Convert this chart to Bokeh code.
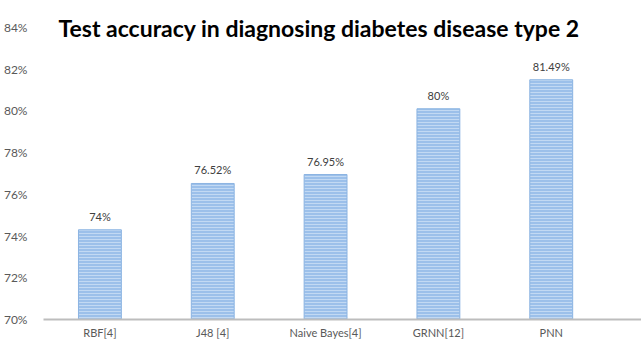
from bokeh.plotting import figure
from bokeh.models import Range1d, FixedTicker, PrintfTickFormatter, ColumnDataSource, Label
from bokeh.core.properties import value
from bokeh.embed import file_html
from bokeh.resources import INLINE

methods = ["RBF[4]", "J48 [4]", "Naive Bayes[4]", "GRNN[12]", "PNN"]
accuracy = [74.3, 76.52, 76.95, 80.1, 81.49]
value_labels = ["74%", "76.52%", "76.95%", "80%", "81.49%"]
y_ticks = [70, 72, 74, 76, 78, 80, 82, 84]
title_text = "Test accuracy in diagnosing diabetes disease type 2"

FONT = "Lato"
xs = [i + 0.5 for i in range(len(methods))]
src = ColumnDataSource(dict(x=xs, top=accuracy, lab=value_labels))

p = figure(width=641, height=341, output_backend="svg", toolbar_location=None,
           x_range=Range1d(0, 5.3), y_range=Range1d(70, 85.29),
           min_border_left=42, min_border_right=0, min_border_top=0, min_border_bottom=0)
p.outline_line_color = None
p.xgrid.visible = False
p.ygrid.visible = False

p.vbar(x="x", top="top", bottom=70, width=0.38, source=src,
       fill_color="#9cc0ea", line_color="#8cb4e2", line_width=1,
       hatch_pattern="-", hatch_color="#c2d9f3", hatch_scale=3, hatch_weight=1)

p.text(x="x", y="top", text="lab", source=src, text_align="center", text_baseline="bottom",
       y_offset=-7, text_font=value(FONT), text_font_size="11px", text_color="#404040")

p.add_layout(Label(x=0, y=84, text=title_text, x_offset=15, y_offset=-1,
                   text_font=FONT, text_font_size="23px", text_font_style="bold",
                   text_color="#000000", text_baseline="alphabetic"))

# y axis
p.yaxis.ticker = FixedTicker(ticks=y_ticks)
p.yaxis.formatter = PrintfTickFormatter(format="%d%%")
p.yaxis.axis_line_color = None
p.yaxis.major_tick_line_color = None
p.yaxis.minor_tick_line_color = None
p.yaxis.major_label_standoff = 10
p.yaxis.major_label_text_font = FONT
p.yaxis.major_label_text_font_size = "12px"
p.yaxis.major_label_text_color = "#595959"

# x axis
p.xaxis.ticker = FixedTicker(ticks=xs)
p.xaxis.major_label_overrides = {x: m for x, m in zip(xs, methods)}
p.xaxis.axis_line_color = "#bdbdbd"
p.xaxis.axis_line_width = 2
p.xaxis.major_tick_line_color = None
p.xaxis.minor_tick_line_color = None
p.xaxis.major_label_standoff = 0
p.xaxis.major_label_text_font = FONT
p.xaxis.major_label_text_font_size = "11px"
p.xaxis.major_label_text_color = "#595959"

open("out.html", "w").write(file_html(p, INLINE))
